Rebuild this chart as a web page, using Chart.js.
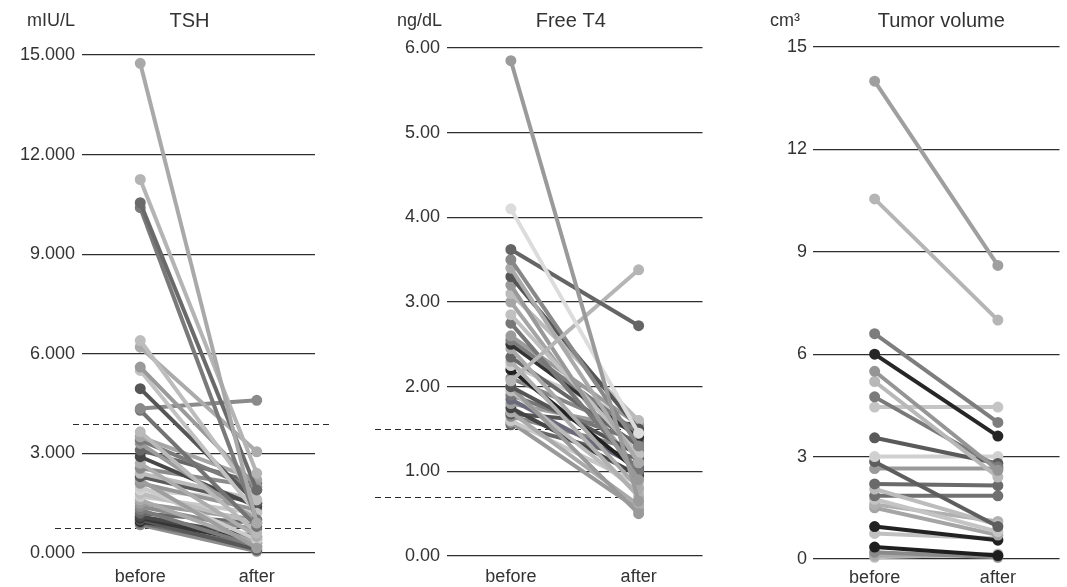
<!DOCTYPE html>
<html>
<head>
<meta charset="utf-8">
<script src="https://cdn.jsdelivr.net/npm/chart.js@4/dist/chart.umd.min.js"></script>
<style>
  html, body { margin: 0; padding: 0; background: #fff; }
  body { width: 1067px; height: 587px; position: relative; overflow: hidden; }
  canvas { position: absolute; top: 0; }
</style>
</head>
<body>
<canvas id="tshChart" width="335" height="587" style="left:0px"></canvas>
<canvas id="t4Chart" width="370" height="587" style="left:340px"></canvas>
<canvas id="tvChart" width="357" height="587" style="left:710px"></canvas>
<script>
const xLabels = ['before', 'after'];

// TSH, mIU/L
const tshBefore = [14.75, 11.25, 10.55, 10.4, 6.4, 6.2, 5.6, 5.5, 4.95, 4.35, 4.3, 3.65, 3.5, 3.4, 3.3, 3.1, 2.9, 2.7, 2.55, 2.4, 2.3, 2.2, 2.1, 2.0, 1.9, 1.8, 1.7, 1.6, 1.5, 1.4, 1.3, 1.2, 1.1, 1.05, 1.0, 0.95, 0.9, 0.85];
const tshAfter = [0.9, 2.4, 1.9, 1.0, 1.6, 3.05, 2.0, 1.2, 1.5, 4.6, 0.8, 0.6, 2.2, 1.9, 1.0, 2.1, 1.4, 0.5, 2.0, 1.6, 1.5, 0.15, 1.3, 0.4, 1.6, 0.9, 1.2, 0.3, 1.0, 0.7, 0.2, 0.9, 0.5, 0.3, 0.1, 0.4, 0.2, 0.05];
const tshTicks = [0, 3, 6, 9, 12, 15];
const tshRefs = [3.9, 0.75];

// Free T4, ng/dL
const t4Before = [5.85, 4.1, 3.62, 2.07, 3.5, 3.4, 3.3, 3.2, 3.1, 2.85, 2.75, 2.6, 2.55, 2.5, 2.45, 2.35, 2.3, 2.25, 2.2, 2.1, 2.0, 2.0, 1.95, 1.9, 1.85, 1.8, 1.75, 1.7, 1.68, 1.65, 1.6, 1.58, 1.55, 3.0];
const t4After = [0.65, 1.45, 2.72, 3.38, 1.3, 1.1, 1.5, 0.9, 1.6, 1.2, 1.0, 1.55, 1.45, 1.4, 0.8, 1.3, 0.7, 1.6, 1.0, 1.45, 1.2, 0.5, 0.75, 1.35, 1.05, 1.5, 0.95, 0.6, 1.55, 1.25, 0.85, 0.55, 1.15, 1.0];
const t4Ticks = [0, 1, 2, 3, 4, 5, 6];
const t4Refs = [1.5, 0.7];

// Tumor volume, cm3
const tvBefore = [14.0, 10.55, 6.6, 6.0, 5.5, 5.2, 4.75, 4.45, 3.55, 3.0, 2.85, 2.65, 2.2, 2.05, 1.85, 1.75, 1.6, 1.5, 0.95, 0.75, 0.35, 0.2, 0.1, 0.05];
const tvAfter = [8.6, 7.0, 4.0, 3.6, 2.6, 2.4, 2.7, 4.45, 2.8, 3.0, 0.95, 2.65, 2.15, 1.0, 1.85, 0.8, 1.1, 0.7, 0.55, 0.6, 0.1, 0.05, 0.1, 0.15];
const tvTicks = [0, 3, 6, 9, 12, 15];

// line colours, one per patient
const tshColors = ['#a9a9a9','#b4b4b4','#6a6a6a','#7a7a7a','#bdbdbd','#ababab','#9a9a9a','#c2c2c2','#565656','#8a8a8a','#737373','#b9b9b9','#a6a6a6','#7b7b7b','#9c9c9c','#676767','#474747','#adadad','#8b8b8b','#bcbcbc','#5a5a5a','#9e9e9e','#969696','#cbcbcb','#d3d3d3','#bdbdbd','#c8c8c8','#aaaaaa','#9b9b9b','#8c8c8c','#7a7a7a','#686868','#484848','#363636','#585858','#262626','#6b6b6b','#8d8d8d'];
const t4Colors = ['#9a9a9a','#dcdcdc','#656565','#b5b5b5','#888888','#aaaaaa','#555555','#999999','#bbbbbb','#c0c0c0','#777777','#9b9b9b','#7c7c7c','#333333','#aaaaaa','#666666','#b0b0b0','#cccccc','#222222','#888888','#555555','#999999','#bbbbbb','#777777','#6a6a7a','#9d9d9d','#444444','#aaaaaa','#555555','#888888','#c8c8c8','#999999','#666666','#a5a5a5'];
const tvColors = ['#9f9f9f','#b5b5b5','#7d7d7d','#262626','#959595','#b8b8b8','#7a7a7a','#c5c5c5','#5a5a5a','#d0d0d0','#5e5e5e','#9a9a9a','#6a6a6a','#bcbcbc','#707070','#c4c4c4','#b0b0b0','#a5a5a5','#222222','#c0c0c0','#1e1e1e','#8a8a8a','#aaaaaa','#bdbdbd'];

const fontFamily = '"Liberation Sans", Arial, sans-serif';
const textColor = '#333';

// dashed reference lines + unit and title above the plot
const overlay = {
    id: 'overlay',
    beforeDatasetsDraw(chart, args, opts) {
        const ctx = chart.ctx;
        const area = chart.chartArea;
        const y = chart.scales.y;
        ctx.save();
        ctx.strokeStyle = '#2a2a2a';
        ctx.lineWidth = 1.2;
        ctx.setLineDash([6, 4]);
        (opts.refs || []).forEach((v, i) => {
            const ext = opts.refExtents[i];
            const py = Math.round(y.getPixelForValue(v)) + 0.5;
            ctx.beginPath();
            ctx.moveTo(area.left + ext[0], py);
            ctx.lineTo(area.right + ext[1], py);
            ctx.stroke();
        });
        ctx.restore();
    },
    afterDraw(chart, args, opts) {
        const ctx = chart.ctx;
        const area = chart.chartArea;
        ctx.save();
        ctx.fillStyle = textColor;
        ctx.textBaseline = 'middle';
        ctx.font = '18px ' + fontFamily;
        ctx.textAlign = 'right';
        ctx.fillText(opts.unit, opts.unitRight, 21);
        ctx.font = '20px ' + fontFamily;
        ctx.textAlign = 'center';
        ctx.fillText(opts.title, (area.left + area.right) / 2 + opts.titleShift, 21);
        ctx.restore();
    }
};

function makePanel(id, before, after, colors, ticks, decimals, cfg) {
    const datasets = before.map((b, i) => ({
        data: [b, after[i]],
        borderColor: colors[i % colors.length],
        backgroundColor: colors[i % colors.length],
        borderWidth: 4,
        pointRadius: 3.5,
        pointHoverRadius: 3.5,
        clip: false
    }));
    return new Chart(document.getElementById(id), {
        type: 'line',
        data: { labels: xLabels, datasets: datasets },
        options: {
            responsive: false,
            devicePixelRatio: 1,
            animation: false,
            events: [],
            layout: { padding: { top: cfg.top, right: cfg.right, left: 0, bottom: 0 } },
            plugins: {
                legend: { display: false },
                tooltip: { enabled: false },
                overlay: cfg.overlay
            },
            scales: {
                x: {
                    offset: true,
                    grid: { display: false },
                    border: { display: false },
                    ticks: { color: textColor, font: { family: fontFamily, size: 18 }, padding: cfg.xPad },
                    afterFit: (s) => { s.height = cfg.xHeight; }
                },
                y: {
                    min: ticks[0],
                    max: ticks[ticks.length - 1],
                    afterBuildTicks: (s) => { s.ticks = ticks.map(v => ({ value: v })); },
                    afterFit: (s) => { s.width = cfg.yWidth; },
                    grid: { color: '#2e2e2e', lineWidth: 1.2, drawTicks: false },
                    border: { display: false },
                    ticks: {
                        color: textColor,
                        font: { family: fontFamily, size: 18 },
                        padding: cfg.yPad,
                        callback: (v) => Number(v).toFixed(decimals)
                    }
                }
            }
        },
        plugins: [overlay]
    });
}

makePanel('tshChart', tshBefore, tshAfter, tshColors, tshTicks, 3, {
    top: 55, right: 20, yWidth: 82, yPad: 7, xHeight: 34, xPad: 5,
    overlay: { unit: 'mIU/L', unitRight: 75, title: 'TSH', titleShift: -9,
               refs: tshRefs, refExtents: [[-9, 15], [-27, -2]] }
});

makePanel('t4Chart', t4Before, t4After, t4Colors, t4Ticks, 2, {
    top: 48, right: 5, yWidth: 107, yPad: 7, xHeight: 31, xPad: 2,
    overlay: { unit: 'ng/dL', unitRight: 102, title: 'Free T4', titleShift: -4,
               refs: t4Refs, refExtents: [[-72, -60], [-72, -60]] }
});

makePanel('tvChart', tvBefore, tvAfter, tvColors, tvTicks, 0, {
    top: 47, right: 0, yWidth: 103, yPad: 6, xHeight: 28, xPad: 0,
    overlay: { unit: 'cm³', unitRight: 90, title: 'Tumor volume', titleShift: 5,
               refs: [], refExtents: [] }
});
</script>
</body>
</html>
